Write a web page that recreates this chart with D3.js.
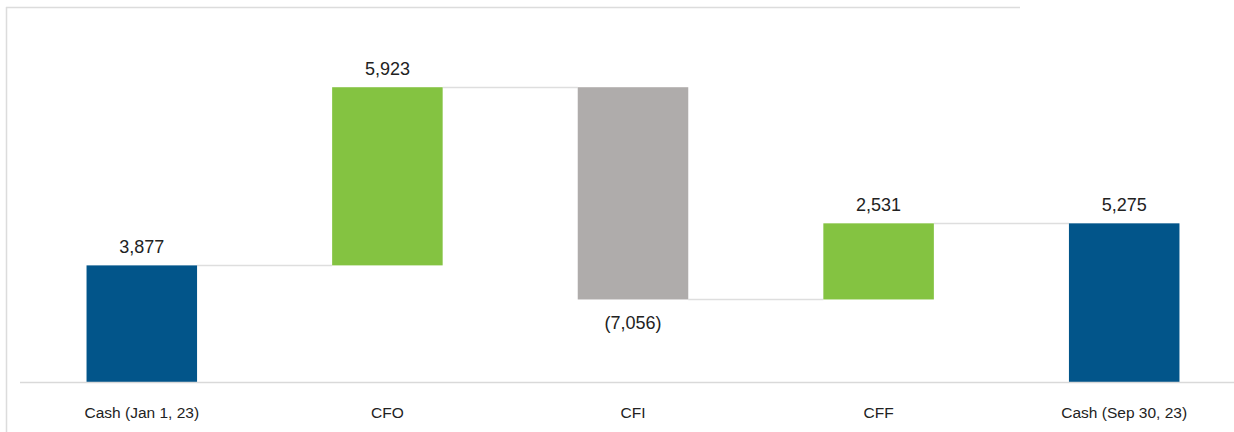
<!DOCTYPE html>
<html>
<head>
<meta charset="utf-8">
<script src="https://cdn.jsdelivr.net/npm/d3@7"></script>
<style>
  html, body { margin: 0; padding: 0; background: #fff; }
  svg { display: block; font-family: "Liberation Sans", Arial, sans-serif; }
</style>
</head>
<body>
<div id="chart"></div>
<script>
// Cash flow waterfall data
const categories = ['Cash (Jan 1, 23)', 'CFO', 'CFI', 'CFF', 'Cash (Sep 30, 23)'];
const values = [3877, 5923, -7056, 2531, 5275];
const kinds = ['total', 'delta', 'delta', 'delta', 'total'];

const width = 1234;
const height = 432;

// Build running start/end for each step
let running = 0;
const steps = categories.map((c, i) => {
  let start, end;
  if (kinds[i] === 'total') {
    start = 0; end = values[i]; running = values[i];
  } else {
    start = running; end = running + values[i]; running = end;
  }
  return { label: c, value: values[i], kind: kinds[i], start, end };
});

const svg = d3.select('#chart').append('svg')
  .attr('width', width)
  .attr('height', height);

// light frame (top + left)
svg.append('line').attr('x1', 6).attr('x2', 1020).attr('y1', 7.5).attr('y2', 7.5)
  .attr('stroke', '#dcdcdc').attr('stroke-width', 1.5);
svg.append('line').attr('x1', 6.5).attr('x2', 6.5).attr('y1', 7).attr('y2', height)
  .attr('stroke', '#dcdcdc').attr('stroke-width', 1.5);

const x = d3.scaleBand()
  .domain(categories)
  .range([19, 1247])
  .paddingInner(0.55)
  .paddingOuter(0.275);

const y = d3.scaleLinear()
  .domain([0, 12500])
  .range([382, 6]);

// connectors between bars
svg.append('g').selectAll('line')
  .data(steps.slice(0, -1))
  .join('line')
  .attr('x1', (d) => x(d.label) + x.bandwidth())
  .attr('x2', (d, i) => x(steps[i + 1].label))
  .attr('y1', (d) => Math.round(y(d.end)) + 0.5)
  .attr('y2', (d) => Math.round(y(d.end)) + 0.5)
  .attr('stroke', '#dedede')
  .attr('stroke-width', 1.5);

const colorOf = (d) => {
  if (d.kind === 'total') return '#02558a';
  return d.value >= 0 ? '#84c341' : '#afacab';
};

svg.append('g').selectAll('rect')
  .data(steps)
  .join('rect')
  .attr('x', (d) => x(d.label))
  .attr('width', x.bandwidth())
  .attr('y', (d) => y(Math.max(d.start, d.end)))
  .attr('height', (d) => Math.abs(y(d.start) - y(d.end)))
  .attr('fill', colorOf);

// x axis
const xAxis = svg.append('g')
  .attr('transform', 'translate(0,382)')
  .call(d3.axisBottom(x).tickSize(0).tickPadding(0));
xAxis.select('.domain').remove();
xAxis.append('line').attr('x1', 20).attr('x2', 1234).attr('y1', 0.5).attr('y2', 0.5)
  .attr('stroke', '#d9d9d9').attr('stroke-width', 1.5);
xAxis.selectAll('.tick text')
  .attr('y', 36)
  .attr('dy', null)
  .attr('fill', '#222')
  .style('font-size', '15.5px')
  .style('font-family', '"Liberation Sans", Arial, sans-serif');

// value labels
const fmt = d3.format(',');
svg.append('g').selectAll('text')
  .data(steps)
  .join('text')
  .attr('x', (d) => x(d.label) + x.bandwidth() / 2)
  .attr('y', (d) => d.value >= 0 ? y(Math.max(d.start, d.end)) - 12 : y(Math.min(d.start, d.end)) + 30)
  .attr('text-anchor', 'middle')
  .attr('fill', '#222')
  .style('font-size', '18px')
  .text((d) => d.value >= 0 ? fmt(d.value) : '(' + fmt(-d.value) + ')');
</script>
</body>
</html>
